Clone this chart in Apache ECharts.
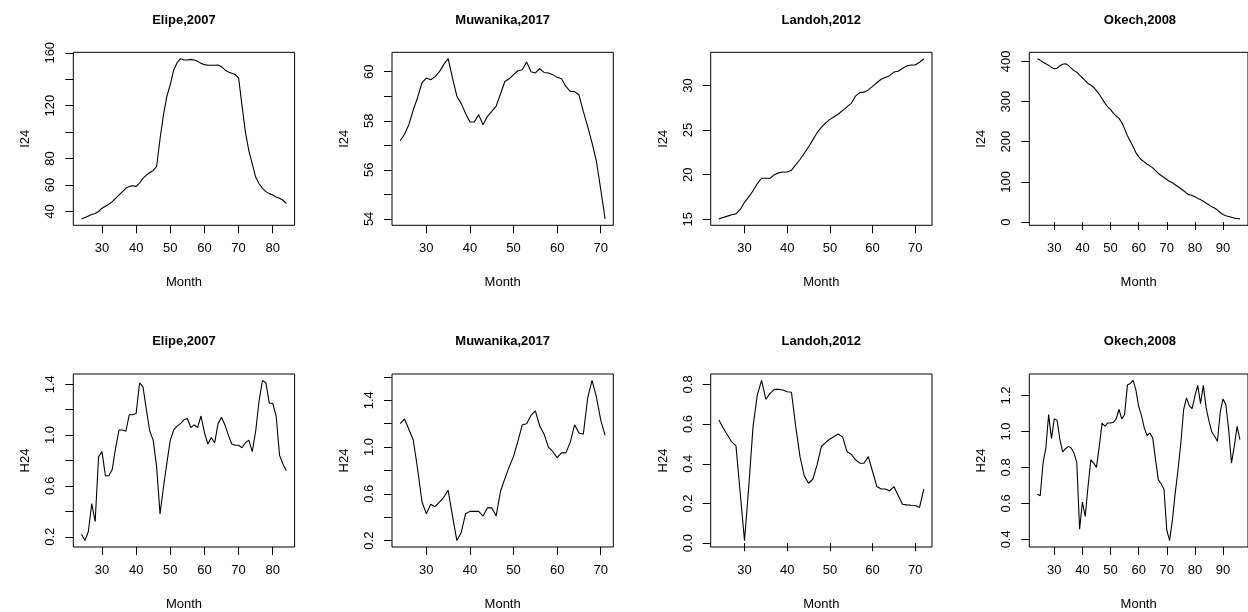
<!DOCTYPE html>
<html>
<head>
<meta charset="utf-8">
<script src="https://cdn.jsdelivr.net/npm/echarts@6/dist/echarts.min.js"></script>
<style>
html,body{margin:0;padding:0;background:#fff;}
#chart{width:1248px;height:612px;}
</style>
</head>
<body>
<div id="chart"></div>
<script>
// ---------- data ----------
const titles = ["Elipe,2007", "Muwanika,2017", "Landoh,2012", "Okech,2008"];
const yNames = ["I24", "H24"];
const xName = "Month";

const monthsElipe = [24,25,26,27,28,29,30,31,32,33,34,35,36,37,38,39,40,41,42,43,44,45,46,47,48,49,50,51,52,53,54,55,56,57,58,59,60,61,62,63,64,65,66,67,68,69,70,71,72,73,74,75,76,77,78,79,80,81,82,83,84];
const monthsMuwanika = [24,25,26,27,28,29,30,31,32,33,34,35,36,37,38,39,40,41,42,43,44,45,46,47,48,49,50,51,52,53,54,55,56,57,58,59,60,61,62,63,64,65,66,67,68,69,70,71];
const monthsLandoh = [24,25,26,27,28,29,30,31,32,33,34,35,36,37,38,39,40,41,42,43,44,45,46,47,48,49,50,51,52,53,54,55,56,57,58,59,60,61,62,63,64,65,66,67,68,69,70,71,72];
const monthsOkech = [24,25,26,27,28,29,30,31,32,33,34,35,36,37,38,39,40,41,42,43,44,45,46,47,48,49,50,51,52,53,54,55,56,57,58,59,60,61,62,63,64,65,66,67,68,69,70,71,72,73,74,75,76,77,78,79,80,81,82,83,84,85,86,87,88,89,90,91,92,93,94,95,96];

const i24Elipe = [34.4,35.5,36.5,37.7,38.5,40,42.5,44,45.5,47.5,50,52.5,55,57.5,59,59.5,59,61.5,65,67.5,69.5,71,74,95,113,127,136,147,152.5,155.5,154.5,154.5,155,154.5,153.5,152,151,150.5,150.5,150.5,150.8,149.5,147,145.5,144.5,143.5,141,120,100,86,76,66,61,57.5,55,53.5,52.5,51,50,48.5,46];
const i24Muwanika = [57.19,57.45,57.85,58.45,58.95,59.55,59.74,59.67,59.8,60.0,60.3,60.53,59.74,59.0,58.7,58.3,57.95,57.95,58.25,57.84,58.18,58.38,58.59,59.09,59.6,59.71,59.88,60.04,60.08,60.4,60.0,59.95,60.12,59.97,59.95,59.88,59.77,59.71,59.4,59.2,59.19,59.06,58.38,57.77,57.1,56.35,55.2,54.0];
const i24Landoh = [15.04,15.2,15.35,15.5,15.6,16.1,16.9,17.5,18.2,19.0,19.6,19.6,19.6,20.0,20.2,20.3,20.3,20.5,21.1,21.7,22.4,23.1,23.9,24.7,25.3,25.8,26.2,26.5,26.8,27.2,27.6,28.0,28.8,29.2,29.25,29.5,29.9,30.3,30.7,30.9,31.1,31.5,31.6,31.9,32.2,32.3,32.3,32.6,33.0];
const i24Okech = [406.6,403,398,394,390,385,381.7,383,389,393,394,390,383,377,373,366,359,352,345,341,335,327,318,307,296,287,280,271,264,258,248,232,215,202,188,173,163,155,150,144,140,135,128,121,116,111,106,101,98,93,88,83,78,72,68,66,63,59,56,52,47,43,38,35,30,24,19,16,14,12,10,9,8];

const h24Elipe = [0.22,0.17,0.24,0.46,0.32,0.83,0.87,0.68,0.68,0.73,0.90,1.04,1.04,1.03,1.16,1.16,1.17,1.41,1.38,1.20,1.03,0.96,0.75,0.38,0.59,0.78,0.96,1.04,1.07,1.09,1.12,1.13,1.06,1.08,1.06,1.15,1.02,0.93,0.98,0.94,1.09,1.14,1.08,1.00,0.93,0.92,0.92,0.90,0.94,0.96,0.87,1.03,1.27,1.43,1.41,1.25,1.25,1.15,0.84,0.77,0.72];
const h24Muwanika = [1.20,1.24,1.15,1.06,0.81,0.53,0.43,0.51,0.49,0.53,0.57,0.63,0.41,0.20,0.27,0.43,0.45,0.45,0.45,0.41,0.48,0.48,0.41,0.62,0.73,0.83,0.92,1.05,1.19,1.20,1.27,1.31,1.18,1.11,1.00,0.96,0.91,0.95,0.95,1.04,1.19,1.12,1.11,1.42,1.57,1.43,1.23,1.10];
const h24Landoh = [0.62,0.58,0.545,0.51,0.49,0.25,0.013,0.285,0.587,0.747,0.82,0.725,0.755,0.775,0.775,0.772,0.763,0.76,0.587,0.436,0.339,0.302,0.322,0.394,0.487,0.507,0.525,0.537,0.55,0.534,0.461,0.448,0.42,0.403,0.403,0.436,0.361,0.285,0.273,0.273,0.263,0.285,0.24,0.196,0.193,0.191,0.19,0.18,0.272];
const h24Okech = [0.651,0.642,0.824,0.908,1.094,0.96,1.07,1.062,0.954,0.886,0.904,0.917,0.908,0.88,0.828,0.456,0.607,0.527,0.694,0.843,0.824,0.80,0.917,1.047,1.029,1.047,1.047,1.051,1.07,1.122,1.07,1.094,1.258,1.267,1.284,1.233,1.14,1.088,1.02,0.977,0.992,0.964,0.843,0.731,0.709,0.679,0.452,0.393,0.508,0.657,0.787,0.936,1.122,1.187,1.144,1.127,1.196,1.256,1.155,1.256,1.131,1.057,0.997,0.973,0.945,1.107,1.181,1.15,1.01,0.824,0.917,1.029,0.954];

// tick positions (all ticks) and which ticks carry labels
const xTicksElipe = [30,40,50,60,70,80];
const xTicksMuwanika = [30,40,50,60,70];
const xTicksLandoh = [30,40,50,60,70];
const xTicksOkech = [30,40,50,60,70,80,90];

const yTicksI24Elipe = [40,60,80,100,120,140,160];
const yLabelsI24Elipe = [40,60,80,120,160];
const yTicksI24Muwanika = [54,55,56,57,58,59,60];
const yLabelsI24Muwanika = [54,56,58,60];
const yTicksI24Landoh = [15,20,25,30];
const yLabelsI24Landoh = [15,20,25,30];
const yTicksI24Okech = [0,100,200,300,400];
const yLabelsI24Okech = [0,100,200,300,400];

const yTicksH24Elipe = [0.2,0.4,0.6,0.8,1.0,1.2,1.4];
const yLabelsH24Elipe = [0.2,0.6,1.0,1.4];
const yTicksH24Muwanika = [0.2,0.4,0.6,0.8,1.0,1.2,1.4,1.6];
const yLabelsH24Muwanika = [0.2,0.6,1.0,1.4];
const yTicksH24Landoh = [0.0,0.2,0.4,0.6,0.8];
const yLabelsH24Landoh = [0.0,0.2,0.4,0.6,0.8];
const yTicksH24Okech = [0.4,0.6,0.8,1.0,1.2];
const yLabelsH24Okech = [0.4,0.6,0.8,1.0,1.2];

// ---------- panels ----------
const panels = [
  {row:0,col:0,x:monthsElipe,y:i24Elipe,xt:xTicksElipe,yt:yTicksI24Elipe,yl:yLabelsI24Elipe,dec:0},
  {row:0,col:1,x:monthsMuwanika,y:i24Muwanika,xt:xTicksMuwanika,yt:yTicksI24Muwanika,yl:yLabelsI24Muwanika,dec:0},
  {row:0,col:2,x:monthsLandoh,y:i24Landoh,xt:xTicksLandoh,yt:yTicksI24Landoh,yl:yLabelsI24Landoh,dec:0},
  {row:0,col:3,x:monthsOkech,y:i24Okech,xt:xTicksOkech,yt:yTicksI24Okech,yl:yLabelsI24Okech,dec:0},
  {row:1,col:0,x:monthsElipe,y:h24Elipe,xt:xTicksElipe,yt:yTicksH24Elipe,yl:yLabelsH24Elipe,dec:1},
  {row:1,col:1,x:monthsMuwanika,y:h24Muwanika,xt:xTicksMuwanika,yt:yTicksH24Muwanika,yl:yLabelsH24Muwanika,dec:1},
  {row:1,col:2,x:monthsLandoh,y:h24Landoh,xt:xTicksLandoh,yt:yTicksH24Landoh,yl:yLabelsH24Landoh,dec:1},
  {row:1,col:3,x:monthsOkech,y:h24Okech,xt:xTicksOkech,yt:yTicksH24Okech,yl:yLabelsH24Okech,dec:1}
];

const colLeft = [73.3, 392, 710.7, 1029.3];
const rowTop = [52.3, 374];
const plotW = 221.3, plotH = 173;
const FONT = '"Liberation Sans", Arial, Helvetica, sans-serif';

function pad(arr){
  const mn = Math.min(...arr), mx = Math.max(...arr), r = mx - mn;
  return [mn - 0.04*r, mx + 0.04*r];
}

const grids=[], xAxes=[], yAxes=[], series=[], titleArr=[];
panels.forEach((p,i)=>{
  const left = colLeft[p.col], top = rowTop[p.row];
  grids.push({left:left, top:top, width:plotW, height:plotH, show:true, borderColor:'#000', borderWidth:1, backgroundColor:'transparent', containLabel:false});
  const xr = pad(p.x), yr = pad(p.y);
  xAxes.push({
    type:'value', gridIndex:i, min:xr[0], max:xr[1],
    name:xName, nameLocation:'middle', nameGap:51,
    nameTextStyle:{color:'#000', fontSize:13, fontFamily:FONT},
    axisLine:{show:false},
    axisTick:{show:true, inside:false, length:8, lineStyle:{color:'#000', width:1}, customValues:p.xt},
    axisLabel:{show:true, color:'#000', fontSize:13, fontFamily:FONT, margin:17, customValues:p.xt},
    splitLine:{show:false}
  });
  yAxes.push({
    type:'value', gridIndex:i, min:yr[0], max:yr[1],
    name:yNames[p.row], nameLocation:'middle', nameGap:41, nameRotate:90,
    nameTextStyle:{color:'#000', fontSize:13, fontFamily:FONT},
    axisLine:{show:false},
    axisTick:{show:true, inside:false, length:8, lineStyle:{color:'#000', width:1}, customValues:p.yt},
    axisLabel:{show:true, color:'#000', fontSize:13, fontFamily:FONT, margin:16, rotate:90,
      customValues:p.yl, formatter:(v)=>Number(v).toFixed(p.dec)},
    splitLine:{show:false}
  });
  series.push({
    type:'line', xAxisIndex:i, yAxisIndex:i,
    data:p.x.map((m,k)=>[m,p.y[k]]),
    showSymbol:false, symbol:'none', smooth:false,
    lineStyle:{color:'#000', width:1.1}, silent:true
  });
  titleArr.push({
    text:titles[p.col], left:left + plotW/2, textAlign:'center', top: top - 31.6 - 7,
    padding:0,
    textStyle:{color:'#000', fontSize:13, fontWeight:'bold', fontFamily:FONT}
  });
});

const chart = echarts.init(document.getElementById('chart'), null, {renderer:'canvas'});
chart.setOption({
  animation:false,
  backgroundColor:'#fff',
  title:titleArr,
  grid:grids,
  xAxis:xAxes,
  yAxis:yAxes,
  series:series
});
</script>
</body>
</html>
